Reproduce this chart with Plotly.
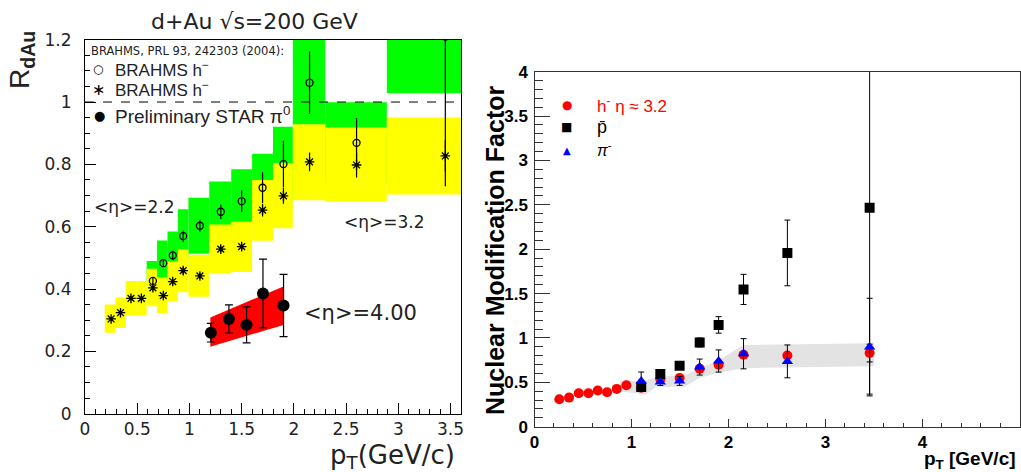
import plotly.graph_objects as go

W, H = 1021, 472

# ---------------- Left panel data: d+Au sqrt(s)=200 GeV ----------------
# BRAHMS h- <eta>=2.2 (open circles)
circ_pt = [0.65, 0.75, 0.84, 0.94, 1.1, 1.3, 1.5, 1.7, 1.9, 2.15, 2.6, 3.45]
circ_r = [0.426, 0.483, 0.508, 0.570, 0.603, 0.648, 0.682, 0.725, 0.801, 1.062, 0.869, 1.21]
circ_err = [0.010, 0.012, 0.015, 0.018, 0.018, 0.023, 0.035, 0.05, 0.075, 0.10, 0.08, 0.48]

# BRAHMS h- <eta>=3.2 (asterisks)
star_pt = [0.25, 0.34, 0.44, 0.54, 0.65, 0.75, 0.84, 0.94, 1.1, 1.3, 1.5, 1.7, 1.9, 2.15, 2.6, 3.45]
star_r = [0.304, 0.324, 0.370, 0.370, 0.404, 0.379, 0.424, 0.459, 0.442, 0.528, 0.536, 0.653, 0.699, 0.808, 0.798, 0.827]
star_err = [0.006, 0.006, 0.006, 0.006, 0.008, 0.008, 0.010, 0.012, 0.010, 0.010, 0.010, 0.020, 0.025, 0.03, 0.04, 0.05]

# systematic boxes <eta>=2.2 (green)
green_edges = [0.59, 0.69, 0.79, 0.89, 0.99, 1.19, 1.40, 1.60, 1.80, 1.99, 2.30, 2.89, 3.60]
green_lo = [0.362, 0.410, 0.432, 0.485, 0.513, 0.551, 0.580, 0.616, 0.681, 0.903, 0.739, 1.028]
green_hi = [0.490, 0.556, 0.585, 0.656, 0.693, 0.745, 0.784, 0.834, 0.921, 1.221, 0.999, 1.390]

# systematic boxes <eta>=3.2 (yellow)
yellow_edges = [0.19, 0.29, 0.39, 0.49, 0.59, 0.69, 0.79, 0.89, 0.99, 1.19, 1.40, 1.60, 1.80, 1.99, 2.30, 2.89, 3.60]
yellow_lo = [0.260, 0.275, 0.315, 0.315, 0.345, 0.322, 0.360, 0.390, 0.375, 0.450, 0.455, 0.555, 0.595, 0.685, 0.680, 0.703]
yellow_hi = [0.350, 0.373, 0.426, 0.426, 0.465, 0.437, 0.488, 0.527, 0.510, 0.607, 0.616, 0.750, 0.804, 0.929, 0.918, 0.950]

# Preliminary STAR pi0 <eta>=4.00
pi0_pt = [1.205, 1.378, 1.547, 1.704, 1.901]
pi0_r = [0.260, 0.304, 0.285, 0.386, 0.347]
pi0_err = [0.030, 0.045, 0.058, 0.110, 0.100]
pi0_band_pt = [1.2, 1.9]
pi0_band_lo = [0.215, 0.285]
pi0_band_hi = [0.309, 0.408]

ref_level = 1.0

# ---------------- Right panel data: Nuclear Modification Factor ----------------
hm_pt = [0.256, 0.356, 0.456, 0.556, 0.652, 0.748, 0.848, 0.947, 1.10, 1.297, 1.496, 1.703, 1.898, 2.155, 2.607, 3.455]
hm_r = [0.310, 0.328, 0.377, 0.377, 0.407, 0.388, 0.426, 0.467, 0.440, 0.534, 0.549, 0.654, 0.699, 0.811, 0.803, 0.830]
hm_err = [0.008, 0.008, 0.008, 0.008, 0.008, 0.008, 0.010, 0.010, 0.010, 0.015, 0.015, 0.02, 0.02, 0.03, 0.03, 0.10]

pbar_pt = [1.10, 1.297, 1.496, 1.703, 1.898, 2.155, 2.607, 3.455]
pbar_r = [0.448, 0.594, 0.687, 0.949, 1.147, 1.547, 1.958, 2.467]
pbar_err = [0.02, 0.03, 0.03, 0.05, 0.093, 0.17, 0.37, 2.10]

pim_pt = [1.10, 1.297, 1.496, 1.703, 1.898, 2.155, 2.607, 3.455]
pim_r = [0.516, 0.504, 0.516, 0.672, 0.740, 0.822, 0.736, 0.897]
pim_err = [0.10, 0.04, 0.05, 0.09, 0.125, 0.17, 0.185, 0.55]

band_pt = [0.88, 1.15, 1.25, 1.55, 1.70, 1.90, 2.15, 3.50]
band_lo = [0.40, 0.36, 0.45, 0.45, 0.55, 0.61, 0.66, 0.68]
band_hi = [0.51, 0.52, 0.56, 0.58, 0.66, 0.75, 0.92, 0.94]

# ---------------- figure ----------------
FONT = "Liberation Sans"
WIDE = "DejaVu Sans"


def box_trace(edges, lo, hi, color):
    centers = [(a + b) / 2 for a, b in zip(edges[:-1], edges[1:])]
    widths = [b - a for a, b in zip(edges[:-1], edges[1:])]
    heights = [h - l for l, h in zip(lo, hi)]
    return go.Bar(x=centers, y=heights, base=lo, width=widths,
                  marker=dict(color=color, line=dict(width=0)),
                  xaxis="x", yaxis="y", hoverinfo="skip", showlegend=False)


fig = go.Figure()

fig.add_trace(box_trace(green_edges, green_lo, green_hi, "#00ff00"))
fig.add_trace(box_trace(yellow_edges, yellow_lo, yellow_hi, "#ffff00"))

fig.add_trace(go.Scatter(x=pi0_band_pt + pi0_band_pt[::-1], y=pi0_band_hi + pi0_band_lo[::-1],
                         fill="toself", fillcolor="#ff0000", mode="lines", line=dict(width=0),
                         xaxis="x", yaxis="y", hoverinfo="skip"))

fig.add_trace(go.Scatter(x=circ_pt, y=circ_r, mode="markers",
                         marker=dict(symbol="circle-open", size=7, color="black", line=dict(width=1.3)),
                         error_y=dict(type="data", array=circ_err, color="black", thickness=1.2, width=0),
                         xaxis="x", yaxis="y"))
fig.add_trace(go.Scatter(x=star_pt, y=star_r, mode="markers",
                         marker=dict(symbol="asterisk-open", size=8, color="black", line=dict(width=1.3, color="black")),
                         error_y=dict(type="data", array=star_err, color="black", thickness=1.2, width=0),
                         xaxis="x", yaxis="y"))
fig.add_trace(go.Scatter(x=pi0_pt, y=pi0_r, mode="markers",
                         marker=dict(symbol="circle", size=12, color="black"),
                         error_y=dict(type="data", array=pi0_err, color="black", thickness=1.2, width=4),
                         xaxis="x", yaxis="y"))

# right panel
fig.add_trace(go.Scatter(x=band_pt + band_pt[::-1], y=band_hi + band_lo[::-1],
                         fill="toself", fillcolor="#e3e3e3", mode="lines", line=dict(width=0),
                         xaxis="x2", yaxis="y2", hoverinfo="skip"))
fig.add_trace(go.Scatter(x=hm_pt, y=hm_r, mode="markers",
                         marker=dict(symbol="circle", size=10, color="#ff0000"),
                         error_y=dict(type="data", array=hm_err, color="black", thickness=1, width=3),
                         xaxis="x2", yaxis="y2"))
fig.add_trace(go.Scatter(x=pbar_pt, y=pbar_r, mode="markers",
                         marker=dict(symbol="square", size=10, color="black"),
                         error_y=dict(type="data", array=pbar_err, color="black", thickness=1, width=3),
                         xaxis="x2", yaxis="y2"))
fig.add_trace(go.Scatter(x=pim_pt, y=pim_r, mode="markers",
                         marker=dict(symbol="triangle-up", size=10, color="#0000ff"),
                         error_y=dict(type="data", array=pim_err, color="black", thickness=1, width=3),
                         xaxis="x2", yaxis="y2"))


def px(x):
    return x / W


def py(y):
    return 1 - y / H


left_tick_font = dict(family=WIDE, size=17, color="#222")
right_tick_font = dict(family=FONT, size=17, color="black", weight="bold")

fig.update_layout(
    width=W, height=H, margin=dict(l=0, r=0, t=0, b=0),
    paper_bgcolor="white", plot_bgcolor="white", showlegend=False, barmode="overlay",
    xaxis=dict(domain=[px(85), px(461)], range=[0, 3.6], anchor="y", showline=True, linecolor="black",
               linewidth=1, mirror=True, ticks="inside", ticklen=11, tickwidth=1, tickcolor="black",
               tick0=0, dtick=0.5, minor=dict(ticks="inside", ticklen=5, dtick=0.1, tick0=0, tickcolor="black"),
               showgrid=False, zeroline=False, tickfont=left_tick_font, automargin=False),
    yaxis=dict(domain=[py(413.7), py(39.7)], range=[0, 1.2], anchor="x", showline=True, linecolor="black",
               linewidth=1, mirror=True, ticks="inside", ticklen=11, tickwidth=1, tickcolor="black",
               tick0=0, dtick=0.2, minor=dict(ticks="inside", ticklen=5, dtick=0.05, tick0=0, tickcolor="black"),
               showgrid=False, zeroline=False, tickfont=left_tick_font, ticklabelstandoff=9, automargin=False),
    xaxis2=dict(domain=[px(534.5), px(1019.5)], range=[0, 5], anchor="y2", showline=True, linecolor="#333",
                linewidth=1.2, mirror=True, ticks="inside", ticklen=8, tickwidth=1.2, tickcolor="#333",
                tick0=0, dtick=1, minor=dict(ticks="inside", ticklen=4, dtick=0.2, tick0=0, tickcolor="#333"),
                showgrid=False, zeroline=False, tickfont=right_tick_font, automargin=False),
    yaxis2=dict(domain=[py(426.7), py(71.7)], range=[0, 4], anchor="x2", showline=True, linecolor="#333",
                linewidth=1.2, mirror=True, ticks="inside", ticklen=15, tickwidth=1.2, tickcolor="#333",
                tick0=0, dtick=0.5, minor=dict(ticks="inside", ticklen=8, dtick=0.1, tick0=0, tickcolor="#333"),
                showgrid=False, zeroline=False, tickfont=right_tick_font, ticklabelstandoff=2, automargin=False),
)

fig.add_shape(type="line", xref="x domain", yref="y", x0=0, x1=1, y0=ref_level, y1=ref_level,
              line=dict(color="black", width=1, dash="dash"), layer="above")


def ann(x, y, text, size, color="black", xanchor="center", angle=0, weight="normal", family=FONT):
    fig.add_annotation(x=px(x), y=py(y), xref="paper", yref="paper", text=text, showarrow=False,
                       xanchor=xanchor, yanchor="middle", textangle=angle,
                       font=dict(family=family, size=size, color=color, weight=weight))


# left panel texts
ann(254, 22, "d+Au √s=200 GeV", 22, color="#222", family=WIDE)
ann(21, 60, "R<sub><b>dAu</b></sub>", 28, color="#222", angle=-90)
ann(457, 456, "p<sub>T</sub>(GeV/c)", 26, color="#222", xanchor="right", family=WIDE)
ann(89, 51.5, "BRAHMS, PRL 93, 242303 (2004):", 11.5, color="#222", xanchor="left", family=WIDE)
ann(98, 69, "○", 12, xanchor="center", family="DejaVu Sans")
ann(113, 69, "BRAHMS h<sup>−</sup>", 17, color="#222", xanchor="left")
ann(98, 89, "∗", 16, xanchor="center", family="DejaVu Sans")
ann(113, 89, "BRAHMS h<sup>−</sup>", 17, color="#222", xanchor="left")
ann(99, 115, "●", 13, xanchor="center", family="DejaVu Sans")
ann(113, 115, "Preliminary STAR π<sup>0</sup>", 19, color="#222", xanchor="left")
ann(134.5, 207, "&lt;η&gt;=2.2", 17, color="#222", family=WIDE)
ann(384.5, 222, "&lt;η&gt;=3.2", 17, color="#222", family=WIDE)
ann(360, 313, "&lt;η&gt;=4.00", 21, color="#222", family=WIDE)

# right panel texts
ann(495, 251, "Nuclear Modification Factor", 25, angle=-90, weight="bold")
ann(1018, 460, "p<sub>T</sub> [GeV/c]", 19, xanchor="right", weight="bold")
ann(566.7, 105, "●", 12, color="#ff0000", family="DejaVu Sans")
ann(595, 105, "h<sup>-</sup> η ≈ 3.2", 17, color="#ff0000", xanchor="left")
ann(566.7, 127, "■", 12, color="black", family="DejaVu Sans")
ann(595, 127, "p̄", 18, color="black", xanchor="left")
ann(566.7, 150, "▲", 10, color="#0000ff", family="DejaVu Sans")
ann(595, 149, "<i>π</i><sup>-</sup>", 16, color="black", xanchor="left")

fig.write_html("out.html")
